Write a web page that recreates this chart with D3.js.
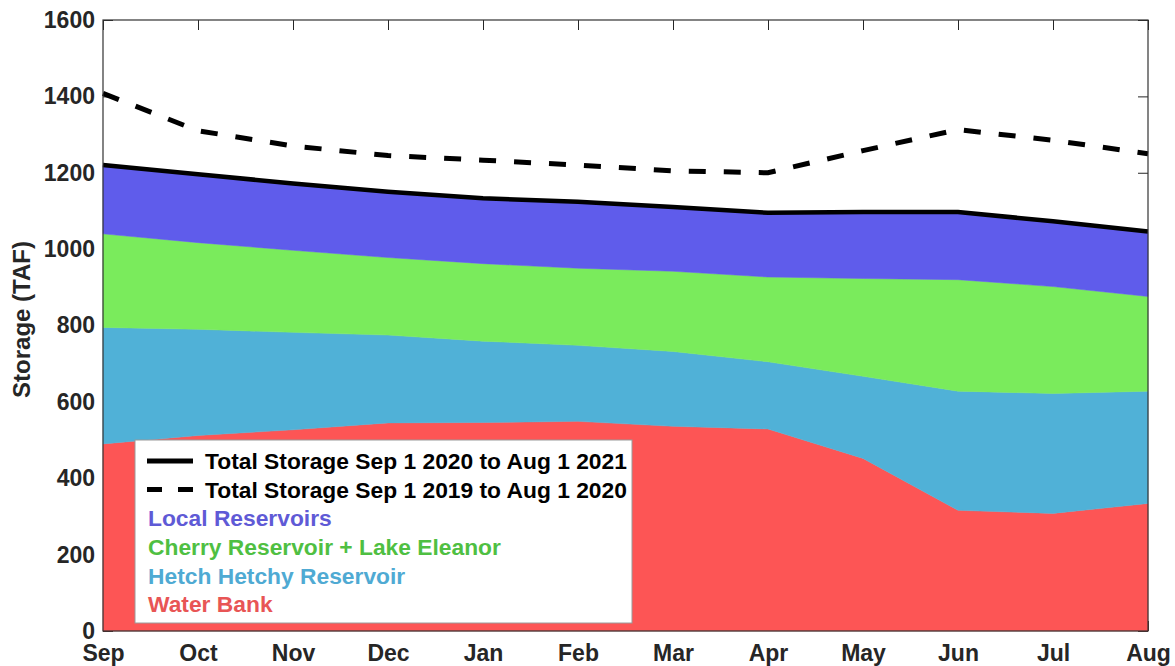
<!DOCTYPE html>
<html>
<head>
<meta charset="utf-8">
<script src="https://cdn.jsdelivr.net/npm/d3@7"></script>
<style>
  html, body { margin: 0; padding: 0; background: #fff; }
  svg { display: block; }
  text { font-family: "Liberation Sans", Arial, Helvetica, sans-serif; font-weight: bold; }
</style>
</head>
<body>
<svg id="chart" width="1175" height="666"></svg>
<script>
// ---- Data (TAF) ----
const months = ["Sep","Oct","Nov","Dec","Jan","Feb","Mar","Apr","May","Jun","Jul","Aug"];
const waterBank   = [490, 512, 527, 545, 546, 549, 536, 529, 452, 316, 308, 334];
const hetchHetchy = [305, 278, 255, 230, 213, 199, 196, 176, 215, 312, 314, 294];
const cherryEleanor = [245, 227, 215, 203, 203, 202, 210, 222, 256, 292, 280, 248];
const localRes    = [180, 179, 175, 172, 171, 174, 168, 168, 174, 177, 171, 170];
const total2019   = [1408, 1310, 1270, 1245, 1233, 1220, 1205, 1200, 1258, 1313, 1285, 1250];
const yTicks = [0, 200, 400, 600, 800, 1000, 1200, 1400, 1600];

const seriesKeys = ["waterBank", "hetchHetchy", "cherryEleanor", "localRes"];
const seriesColors = { waterBank: "#fd5555", hetchHetchy: "#50b1d7", cherryEleanor: "#7aeb5c", localRes: "#5f5ceb" };
const legendItems = [
  { label: "Total Storage Sep 1 2020 to Aug 1 2021", type: "solid" },
  { label: "Total Storage Sep 1 2019 to Aug 1 2020", type: "dash" },
  { label: "Local Reservoirs", color: "#5f5ad6" },
  { label: "Cherry Reservoir + Lake Eleanor", color: "#4fbf42" },
  { label: "Hetch Hetchy Reservoir", color: "#4faad3" },
  { label: "Water Bank", color: "#e85555" }
];

const table = months.map((m, i) => ({
  month: m,
  waterBank: waterBank[i],
  hetchHetchy: hetchHetchy[i],
  cherryEleanor: cherryEleanor[i],
  localRes: localRes[i],
  total2019: total2019[i]
}));

// ---- Layout ----
const svg = d3.select("#chart");
const L = 103, R = 1148, T = 20, B = 631;
const x = d3.scalePoint().domain(months).range([L, R]);
const y = d3.scaleLinear().domain([0, 1600]).range([B, T]);
const axisColor = "#262626";
const fontSize = 23;

// ---- Axes (ticks under data) ----
const gLeft = svg.append("g").attr("transform", `translate(${L},0)`)
  .call(d3.axisLeft(y).tickValues(yTicks).tickSize(-10).tickPadding(8).tickFormat(d3.format("d")));
const gRight = svg.append("g").attr("transform", `translate(${R},0)`)
  .call(d3.axisRight(y).tickValues(yTicks).tickSize(-10).tickFormat(""));
const gBottom = svg.append("g").attr("transform", `translate(0,${B})`)
  .call(d3.axisBottom(x).tickSize(-10).tickPadding(14));
const gTop = svg.append("g").attr("transform", `translate(0,${T})`)
  .call(d3.axisTop(x).tickSize(-10).tickFormat(""));
[gLeft, gRight, gBottom, gTop].forEach(g => {
  g.select(".domain").remove();
  g.selectAll("line").attr("stroke", axisColor).attr("stroke-width", 1);
  g.selectAll("text").attr("fill", axisColor).style("font-size", fontSize + "px")
    .style("font-family", '"Liberation Sans", Arial, Helvetica, sans-serif').style("font-weight", "bold");
});

// ---- Stacked areas ----
const stack = d3.stack().keys(seriesKeys);
const stacked = stack(table);
const area = d3.area()
  .x(d => x(d.data.month))
  .y0(d => y(d[0]))
  .y1(d => y(d[1]));
svg.append("g").selectAll("path")
  .data(stacked)
  .join("path")
  .attr("d", area)
  .attr("fill", d => seriesColors[d.key])
  .attr("stroke", d => seriesColors[d.key])
  .attr("stroke-width", 0.5);

// ---- Total lines ----
const topLayer = stacked[stacked.length - 1];
const lineSolid = d3.line().x(d => x(d.data.month)).y(d => y(d[1]));
svg.append("path").datum(topLayer)
  .attr("d", lineSolid)
  .attr("fill", "none").attr("stroke", "#000").attr("stroke-width", 4.5);

const lineDash = d3.line().x(d => x(d.month)).y(d => y(d.total2019));
svg.append("path").datum(table)
  .attr("d", lineDash)
  .attr("fill", "none").attr("stroke", "#000").attr("stroke-width", 5)
  .attr("stroke-dasharray", "17,18");

// ---- Frame ----
svg.append("rect")
  .attr("x", L).attr("y", T).attr("width", R - L).attr("height", B - T)
  .attr("fill", "none").attr("stroke", "#333").attr("stroke-width", 1.2);

// ---- Y label ----
svg.append("text")
  .attr("transform", `translate(30,${(T + B) / 2 - 6}) rotate(-90)`)
  .attr("text-anchor", "middle")
  .attr("fill", axisColor)
  .style("font-size", "24px")
  .text("Storage (TAF)");

// ---- Legend ----
const lg = svg.append("g");
lg.append("rect")
  .attr("x", 135).attr("y", 440).attr("width", 497).attr("height", 183)
  .attr("fill", "#fff").attr("stroke", "#9a9a9a").attr("stroke-width", 1);
const rowY0 = 461, rowStep = 28.6;
legendItems.forEach((it, i) => {
  const cy = rowY0 + i * rowStep;
  if (it.type) {
    lg.append("line")
      .attr("x1", 147).attr("x2", 193).attr("y1", cy).attr("y2", cy)
      .attr("stroke", "#000").attr("stroke-width", 5)
      .attr("stroke-dasharray", it.type === "dash" ? "15,16" : null);
    lg.append("text").attr("x", 205).attr("y", cy).attr("dy", "0.36em")
      .attr("fill", "#000").style("font-size", "22.8px").text(it.label);
  } else {
    lg.append("text").attr("x", 148).attr("y", cy).attr("dy", "0.36em")
      .attr("fill", it.color).style("font-size", "22.8px").text(it.label);
  }
});
</script>
</body>
</html>
